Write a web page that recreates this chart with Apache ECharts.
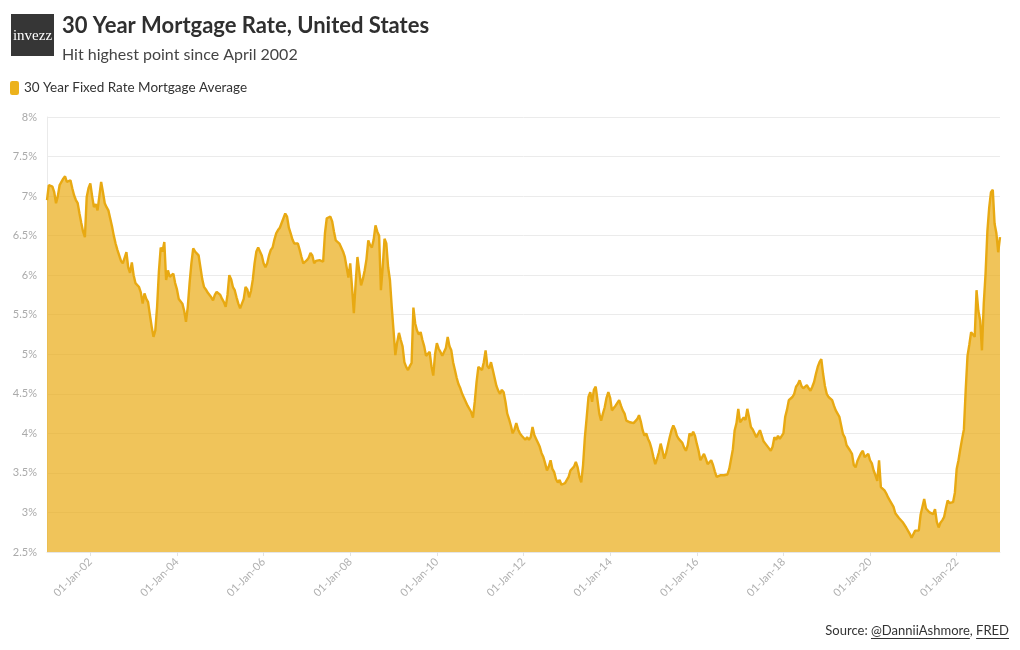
<!DOCTYPE html>
<html><head><meta charset="utf-8">
<script src="https://cdn.jsdelivr.net/npm/echarts@6/dist/echarts.min.js"></script>
<style>html,body{margin:0;padding:0;background:#fff}#c{width:1020px;height:650px}</style>
</head><body><div id="c"></div>
<script>
const titleText = '30 Year Mortgage Rate, United States';
const subtitleText = 'Hit highest point since April 2002';
const seriesName = '30 Year Fixed Rate Mortgage Average';
const logoText = 'invezz';
const sourceParts = ['Source: ', '@DanniiAshmore', ', ', 'FRED'];
const xTickYears = [2002, 2004, 2006, 2008, 2010, 2012, 2014, 2016, 2018, 2020, 2022];
const xTickLabels = ['01-Jan-02', '01-Jan-04', '01-Jan-06', '01-Jan-08', '01-Jan-10', '01-Jan-12', '01-Jan-14', '01-Jan-16', '01-Jan-18', '01-Jan-20', '01-Jan-22'];

// Rate in %, two readings per month (1st and 16th)
const r2001 = [6.95,7.14,7.12,7.12,7.05,6.91,7.00,7.14,7.18,7.22,7.25,7.18,7.16,7.20,7.10,7.01,6.95,6.91,6.78,6.66,6.55,6.48,6.99,7.10];
const r2002 = [7.16,7.00,6.86,6.90,6.82,7.00,7.18,7.05,6.91,6.86,6.82,6.72,6.62,6.50,6.40,6.32,6.25,6.18,6.15,6.22,6.29,6.10,6.03,6.16];
const r2003 = [6.00,5.90,5.92,5.85,5.78,5.64,5.77,5.70,5.66,5.50,5.35,5.22,5.30,5.60,6.05,6.35,6.30,6.42,5.94,6.06,5.98,6.00,6.02,5.90];
const r2004 = [5.82,5.70,5.68,5.64,5.55,5.41,5.60,5.90,6.15,6.34,6.30,6.30,6.25,6.10,5.95,5.85,5.82,5.78,5.77,5.72,5.68,5.75,5.79,5.81];
const r2005 = [5.75,5.70,5.66,5.60,5.75,6.00,5.95,5.85,5.81,5.72,5.64,5.58,5.56,5.70,5.85,5.82,5.72,5.80,5.94,6.15,6.30,6.35,6.30,6.25];
const r2006 = [6.15,6.10,6.15,6.25,6.32,6.35,6.45,6.53,6.57,6.60,6.66,6.72,6.78,6.74,6.60,6.53,6.45,6.40,6.38,6.40,6.32,6.23,6.15,6.13];
const r2007 = [6.19,6.22,6.28,6.25,6.15,6.18,6.20,6.19,6.17,6.17,6.53,6.72,6.74,6.74,6.68,6.55,6.44,6.42,6.40,6.35,6.30,6.23,6.10,5.97];
const r2008 = [6.15,5.85,5.52,5.90,6.23,6.05,5.87,5.95,6.06,6.20,6.44,6.38,6.35,6.45,6.63,6.55,6.50,5.81,6.10,6.46,6.40,6.10,5.94,5.60];
const r2009 = [5.30,4.99,5.15,5.27,5.18,5.10,4.90,4.84,4.80,4.85,4.89,5.59,5.39,5.30,5.25,5.28,5.18,5.10,4.98,5.00,5.03,4.85,4.73,5.00];
const r2010 = [5.14,5.07,5.03,4.98,4.96,5.08,5.22,5.10,5.05,4.90,4.80,4.70,4.62,4.57,4.50,4.45,4.40,4.35,4.33,4.27,4.20,4.40,4.65,4.84];
const r2011 = [4.82,4.80,4.90,5.05,4.85,4.82,4.90,4.80,4.70,4.60,4.54,4.50,4.55,4.52,4.40,4.25,4.18,4.10,4.00,4.05,4.13,4.05,4.00,3.97];
const r2012 = [3.95,3.92,3.95,3.92,3.95,4.08,3.98,3.93,3.88,3.83,3.75,3.70,3.62,3.53,3.58,3.66,3.55,3.51,3.42,3.38,3.41,3.35,3.34,3.37];
const r2013 = [3.38,3.45,3.53,3.55,3.58,3.64,3.57,3.45,3.38,3.60,3.95,4.20,4.46,4.52,4.40,4.55,4.59,4.57,4.25,4.16,4.25,4.33,4.45,4.52];
const r2014 = [4.45,4.29,4.32,4.35,4.37,4.42,4.35,4.29,4.25,4.16,4.15,4.14,4.15,4.13,4.12,4.18,4.23,4.15,4.04,3.97,4.00,3.93,3.88,3.80];
const r2015 = [3.70,3.61,3.68,3.76,3.87,3.78,3.68,3.75,3.85,3.95,4.04,4.10,4.05,3.97,3.93,3.91,3.88,3.82,3.78,3.85,4.00,3.97,4.02,3.97];
const r2016 = [3.87,3.78,3.66,3.70,3.74,3.68,3.61,3.63,3.66,3.60,3.52,3.45,3.44,3.47,3.45,3.47,3.45,3.48,3.55,3.57,3.80,4.04,4.13,4.31];
const r2017 = [4.14,4.15,4.20,4.17,4.31,4.20,4.08,4.05,4.04,3.95,3.95,4.04,3.97,3.90,3.87,3.85,3.81,3.78,3.83,3.95,3.92,3.97,3.93,3.95];
const r2018 = [4.00,4.21,4.30,4.42,4.44,4.46,4.50,4.59,4.62,4.67,4.60,4.57,4.58,4.61,4.57,4.54,4.59,4.65,4.75,4.84,4.90,4.94,4.75,4.60];
const r2019 = [4.50,4.46,4.44,4.42,4.35,4.29,4.25,4.21,4.10,3.99,3.95,3.85,3.83,3.78,3.74,3.60,3.57,3.65,3.70,3.75,3.78,3.70,3.72,3.74];
const r2020 = [3.66,3.62,3.53,3.47,3.40,3.66,3.32,3.31,3.28,3.24,3.19,3.15,3.13,3.07,2.99,2.98,2.93,2.94,2.88,2.86,2.81,2.79,2.73,2.68];
const r2021 = [2.69,2.77,2.79,2.77,2.97,3.07,3.17,3.05,3.03,3.00,3.00,2.98,3.04,2.88,2.81,2.87,2.90,2.94,3.05,3.15,3.12,3.11,3.13,3.25];
const r2022 = [3.55,3.66,3.80,3.93,4.05,4.55,4.98,5.12,5.28,5.30,5.22,5.81,5.55,5.43,5.05,5.64,6.02,6.55,6.85,7.05,7.08,6.65,6.53,6.29];
const r2023 = [6.48];

const years = [2001,2002,2003,2004,2005,2006,2007,2008,2009,2010,2011,2012,2013,2014,2015,2016,2017,2018,2019,2020,2021,2022,2023];
const yearly = [r2001,r2002,r2003,r2004,r2005,r2006,r2007,r2008,r2009,r2010,r2011,r2012,r2013,r2014,r2015,r2016,r2017,r2018,r2019,r2020,r2021,r2022,r2023];
const data = [];
years.forEach((y, k) => yearly[k].forEach((v, i) => data.push([y + i / 24, v])));

const FONT = 'Lato';
const chart = echarts.init(document.getElementById('c'), null, {renderer: 'canvas'});

// measure source text for underlines
const mctx = document.createElement('canvas').getContext('2d');
mctx.font = '13px ' + FONT;
const w = s => mctx.measureText(s).width;
const srcFull = sourceParts.join('');
const srcRight = 1009;
const srcX = srcRight - w(srcFull);
const srcY = 631;
const u1x = srcX + w(sourceParts[0]);
const u1w = w(sourceParts[1]);
const u2x = srcX + w(sourceParts[0] + sourceParts[1] + sourceParts[2]);
const u2w = w(sourceParts[3]);

chart.setOption({
  animation: false,
  backgroundColor: '#fff',
  title: {
    text: titleText,
    subtext: subtitleText,
    left: 57, top: 10,
    itemGap: 10,
    textStyle: {fontFamily: FONT, fontSize: 22, fontWeight: 'bold', color: '#2f2f2f'},
    subtextStyle: {fontFamily: FONT, fontSize: 16, color: '#444'}
  },
  legend: {
    left: 10, top: 81,
    icon: 'roundRect',
    itemWidth: 9, itemHeight: 14,
    padding: 0,
    textStyle: {fontFamily: FONT, fontSize: 13.5, color: '#333'},
    data: [{name: seriesName, itemStyle: {color: '#ecb21c'}}]
  },
  grid: {left: 47, right: 20, top: 117, bottom: 98},
  xAxis: {
    type: 'value', min: 2001, max: 2023,
    axisLine: {show: true, lineStyle: {color: '#e6e6e6'}},
    axisTick: {show: true, customValues: xTickYears, length: 4, lineStyle: {color: '#e2e2e2'}},
    splitLine: {show: false},
    axisLabel: {
      customValues: xTickYears,
      rotate: 45, margin: 8,
      color: '#b0b0b0', fontSize: 11, fontFamily: FONT,
      formatter: v => { const i = xTickYears.indexOf(Math.round(v)); return i >= 0 ? xTickLabels[i] : ''; }
    }
  },
  yAxis: {
    type: 'value', min: 2.5, max: 8, interval: 0.5,
    axisLine: {show: true, lineStyle: {color: '#eaeaea'}},
    axisTick: {show: false},
    splitLine: {lineStyle: {color: '#ebebeb'}},
    axisLabel: {formatter: v => v + '%', color: '#aaa', fontSize: 11, fontFamily: FONT, margin: 10}
  },
  series: [{
    name: seriesName,
    type: 'line',
    data: data,
    showSymbol: false,
    symbol: 'none',
    itemStyle: {color: '#ecb21c'},
    lineStyle: {color: '#e8a912', width: 2.4},
    areaStyle: {color: '#eaab14', opacity: 0.7, origin: 'start'}
  }],
  graphic: [
    {type: 'rect', left: 11, top: 14, shape: {width: 43, height: 42}, style: {fill: '#363636'}},
    {type: 'text', x: 32.5, y: 36, style: {text: logoText, fill: '#fff', font: '15px "Liberation Serif"', align: 'center', verticalAlign: 'middle'}},
    {type: 'text', x: srcX, y: srcY, style: {text: srcFull, fill: '#333', font: '13px ' + FONT, verticalAlign: 'middle'}},
    {type: 'rect', shape: {x: u1x, y: srcY + 7, width: u1w, height: 1}, style: {fill: '#333'}},
    {type: 'rect', shape: {x: u2x, y: srcY + 7, width: u2w, height: 1}, style: {fill: '#333'}}
  ]
});
</script>
</body></html>
